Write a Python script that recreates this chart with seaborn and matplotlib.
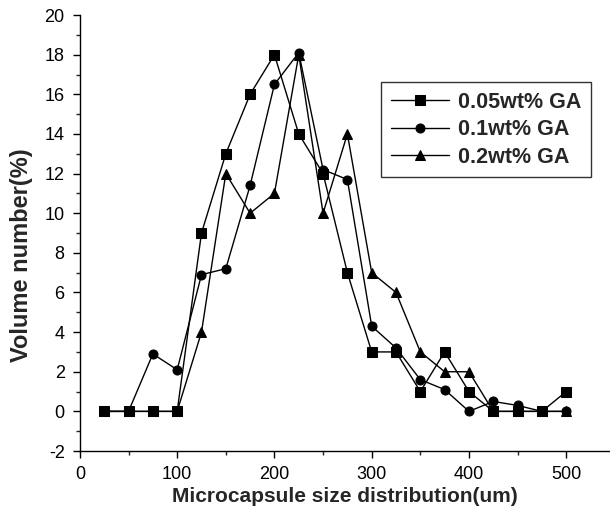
import pandas as pd
import matplotlib.pyplot as plt
import seaborn as sns
from matplotlib.ticker import MultipleLocator

sns.set_style('ticks')
plt.rcParams['font.family'] = ['Liberation Sans', 'DejaVu Sans']
plt.rcParams['axes.unicode_minus'] = False

sizes = [25, 50, 75, 100, 125, 150, 175, 200, 225, 250,
         275, 300, 325, 350, 375, 400, 425, 450, 475, 500]
ga_005 = [0, 0, 0, 0, 9, 13, 16, 18, 14, 12, 7, 3, 3, 1, 3, 1, 0, 0, 0, 1]
ga_01 = [0, 0, 2.9, 2.1, 6.9, 7.2, 11.4, 16.5, 18.1, 12.2,
         11.7, 4.3, 3.2, 1.6, 1.1, 0, 0.5, 0.3, 0, 0]
ga_02 = [0, 0, 0, 0, 4, 12, 10, 11, 18, 10, 14, 7, 6, 3, 2, 2, 0, 0, 0, 0]
labels = ['0.05wt% GA', '0.1wt% GA', '0.2wt% GA']

df = pd.concat([
    pd.DataFrame({'size': sizes, 'vol': v, 'group': lab})
    for v, lab in zip([ga_005, ga_01, ga_02], labels)
])

fig = plt.figure(figsize=(6.1, 5.19), dpi=100)
ax = fig.add_axes([0.131, 0.131, 0.869, 0.84])

sns.lineplot(data=df, x='size', y='vol', style='group', markers=['s', 'o', '^'],
             dashes=False, color='black', linewidth=1, markersize=6.5,
             markeredgecolor='black', sort=False, ax=ax)

ax.set_xlim(0, 545)
ax.set_ylim(-2, 20)
ax.xaxis.set_major_locator(MultipleLocator(100))
ax.xaxis.set_minor_locator(MultipleLocator(50))
ax.yaxis.set_major_locator(MultipleLocator(2))
ax.yaxis.set_minor_locator(MultipleLocator(1))
ax.tick_params(which='major', direction='out', length=5, width=1, labelsize=13,
               colors='black', pad=6)
ax.tick_params(which='minor', direction='out', length=3, width=1)
sns.despine(ax=ax)
for s in ['left', 'bottom']:
    ax.spines[s].set_color('black')
    ax.spines[s].set_linewidth(1)

ax.set_xlabel('Microcapsule size distribution(um)', fontsize=15, fontweight='bold', labelpad=3)
ax.set_ylabel('Volume number(%)', fontsize=17, fontweight='bold')
ax.yaxis.set_label_coords(-0.088, 0.45)

leg = ax.legend(loc='upper right', bbox_to_anchor=(0.964, 0.846), borderaxespad=0,
                frameon=True, fancybox=False, edgecolor='black',
                prop={'weight': 'bold', 'size': 15.5},
                handlelength=2.7, handletextpad=0.4, borderpad=0.45, labelspacing=0.3)
leg.get_frame().set_linewidth(1)

fig.savefig('out.png', dpi=100)
